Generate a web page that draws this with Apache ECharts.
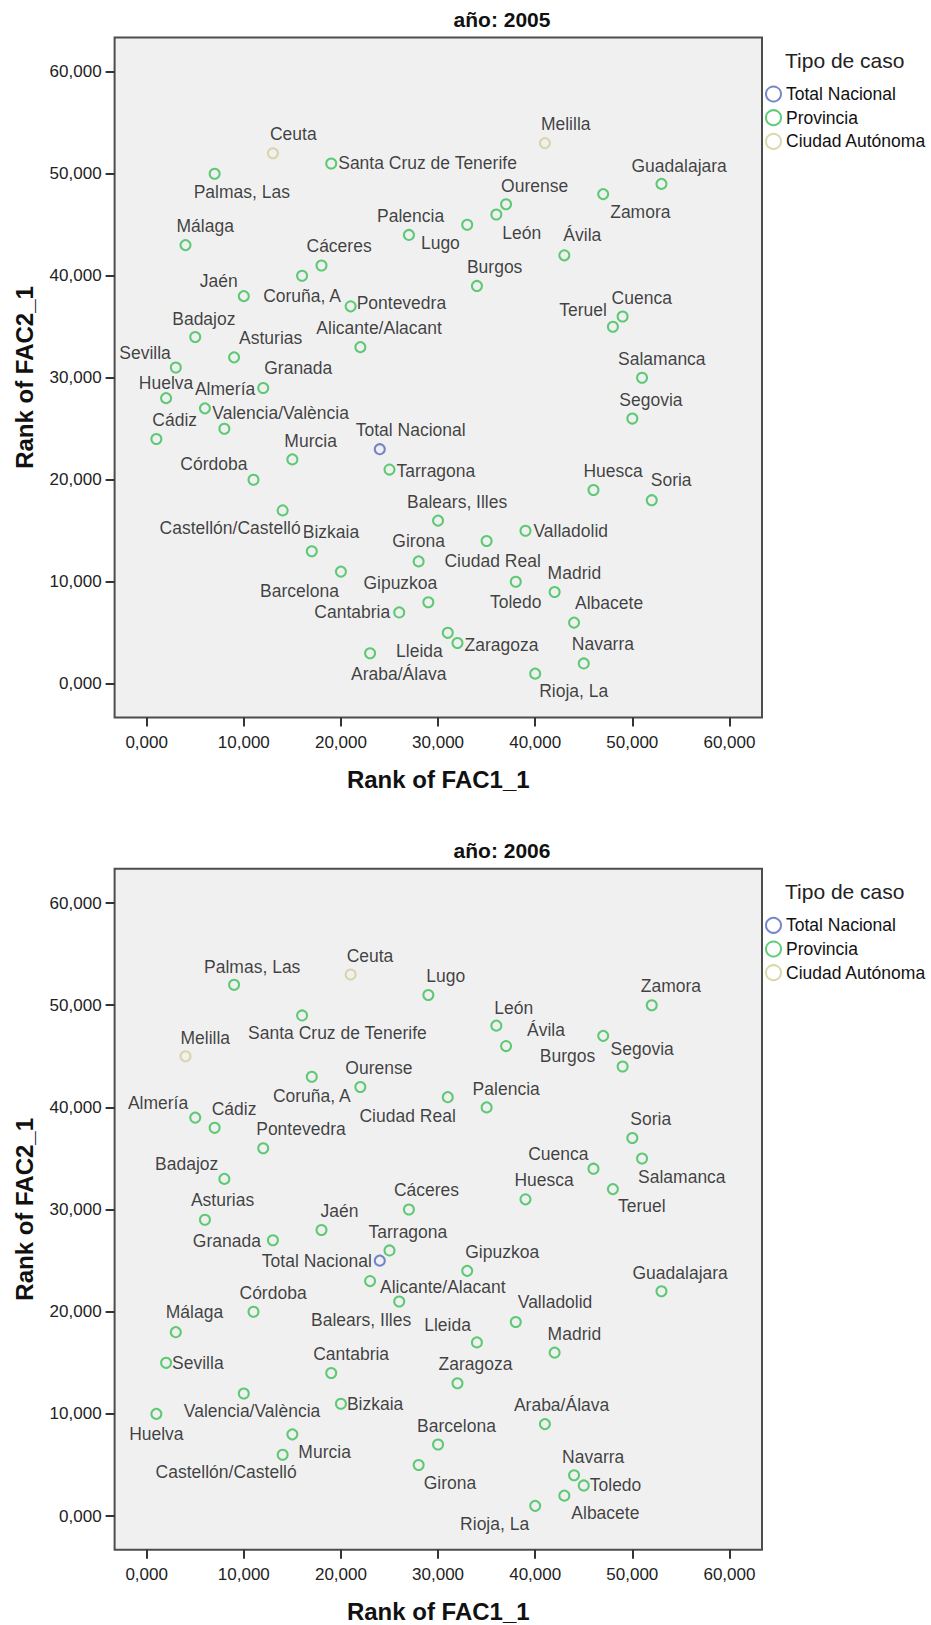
<!DOCTYPE html>
<html lang="es">
<head>
<meta charset="utf-8">
<title>Rank of FAC1_1 / Rank of FAC2_1 por año</title>
<script src="https://cdn.jsdelivr.net/npm/echarts@6.0.0/dist/echarts.min.js"></script>
<style>
  html, body { margin: 0; padding: 0; background: #ffffff; }
  #chart { width: 931px; height: 1625px; }
</style>
</head>
<body>
<div id="chart"></div>
<script>
// Casos (orden de código INE)
const casos = [
  'Total Nacional', 'Araba/Álava', 'Albacete', 'Alicante/Alacant', 'Almería', 'Ávila',
  'Badajoz', 'Balears, Illes', 'Barcelona', 'Burgos', 'Cáceres', 'Cádiz',
  'Castellón/Castelló', 'Ciudad Real', 'Córdoba', 'Coruña, A', 'Cuenca', 'Girona',
  'Granada', 'Guadalajara', 'Gipuzkoa', 'Huelva', 'Huesca', 'Jaén', 'León', 'Lleida',
  'Rioja, La', 'Lugo', 'Madrid', 'Málaga', 'Murcia', 'Navarra', 'Ourense', 'Asturias',
  'Palencia', 'Palmas, Las', 'Pontevedra', 'Salamanca', 'Santa Cruz de Tenerife',
  'Cantabria', 'Segovia', 'Sevilla', 'Soria', 'Tarragona', 'Teruel', 'Toledo',
  'Valencia/València', 'Valladolid', 'Bizkaia', 'Zamora', 'Zaragoza', 'Ceuta', 'Melilla'
];

// Tipo de caso
const tiposCaso = ['Total Nacional', 'Provincia', 'Ciudad Autónoma'];
const casosTotal = ['Total Nacional'];
const casosCiudadAutonoma = ['Ceuta', 'Melilla'];

// Rangos por año (mismo orden que `casos`)
const fac1Rank2005 = [24, 23, 44, 22, 6, 43, 5, 30, 20, 34, 18, 1, 14, 35, 11, 16, 49, 28, 12, 53, 29, 2, 46, 10, 36, 31,
  40, 27, 42, 4, 15, 45, 37, 9, 33, 7, 21, 51, 19, 26, 50, 3, 52, 25, 48, 38, 8, 39, 17, 47, 32, 13, 41];
const fac2Rank2005 = [23, 3, 6, 33, 27, 42, 34, 16, 11, 39, 41, 24, 17, 14, 20, 40, 36, 12, 29, 49, 8, 28, 19, 38, 46, 5,
  1, 44, 9, 43, 22, 2, 47, 32, 45, 50, 37, 30, 51, 7, 26, 31, 18, 21, 35, 10, 25, 15, 13, 48, 4, 52, 53];
const fac1Rank2006 = [24, 41, 43, 23, 5, 37, 8, 26, 30, 47, 27, 7, 14, 31, 11, 17, 46, 28, 13, 53, 33, 1, 39, 18, 36, 34,
  40, 29, 42, 3, 15, 44, 22, 6, 35, 9, 12, 51, 16, 19, 49, 2, 50, 25, 48, 45, 10, 38, 20, 52, 32, 21, 4];
const fac2Rank2006 = [25, 9, 2, 23, 39, 46, 33, 21, 7, 47, 30, 38, 6, 41, 20, 43, 34, 5, 27, 22, 24, 10, 31, 28, 48, 17,
  1, 51, 16, 18, 8, 4, 42, 29, 40, 52, 36, 35, 49, 14, 44, 15, 37, 26, 32, 3, 12, 19, 11, 50, 13, 53, 45];

// Marcas de los ejes
const axisTicks = [0, 10, 20, 30, 40, 50, 60];

// Colocación de cada etiqueta respecto a su punto: [dx, dy, alineación]
const etiquetas2005 = {
  'Total Nacional': [-24, -19, 'left'], 'Araba/Álava': [-19, 21, 'left'], 'Albacete': [1, -20, 'left'],
  'Alicante/Alacant': [-44, -19, 'left'], 'Almería': [-10, -19, 'left'], 'Ávila': [-1, -20, 'left'],
  'Badajoz': [-23, -18, 'left'], 'Balears, Illes': [-31, -19, 'left'], 'Barcelona': [-2, 19, 'right'],
  'Burgos': [-10, -19, 'left'], 'Cáceres': [-15, -20, 'left'], 'Cádiz': [-4, -19, 'left'],
  'Castellón/Castelló': [18, 18, 'right'], 'Ciudad Real': [6, 20, 'center'], 'Córdoba': [-6, -16, 'right'],
  'Coruña, A': [0, 20, 'center'], 'Cuenca': [-11, -19, 'left'], 'Girona': [0, -20, 'center'],
  'Granada': [1, -20, 'left'], 'Guadalajara': [-30, -18, 'left'], 'Gipuzkoa': [9, -19, 'right'],
  'Huelva': [0, -15, 'center'], 'Huesca': [-10, -19, 'left'], 'Jaén': [-6, -15, 'right'],
  'León': [6, 18, 'left'], 'Lleida': [-5, 18, 'right'], 'Rioja, La': [4, 17, 'left'],
  'Lugo': [12, 8, 'left'], 'Madrid': [-7, -19, 'left'], 'Málaga': [-9, -19, 'left'],
  'Murcia': [-8, -18, 'left'], 'Navarra': [-12, -19, 'left'], 'Ourense': [-5, -18, 'left'],
  'Asturias': [5, -19, 'left'], 'Palencia': [-23, -9, 'right'], 'Palmas, Las': [-21, 18, 'left'],
  'Pontevedra': [6, -3, 'left'], 'Salamanca': [-24, -19, 'left'], 'Santa Cruz de Tenerife': [7, -1, 'left'],
  'Cantabria': [-9, 0, 'right'], 'Segovia': [-13, -19, 'left'], 'Sevilla': [-5, -15, 'right'],
  'Soria': [-1, -20, 'left'], 'Tarragona': [7, 1, 'left'], 'Teruel': [-6, -17, 'right'],
  'Toledo': [0, 20, 'center'], 'Valencia/València': [-12, -16, 'left'], 'Valladolid': [8, 0, 'left'],
  'Bizkaia': [-9, -19, 'left'], 'Zamora': [7, 18, 'left'], 'Zaragoza': [7, 2, 'left'],
  'Ceuta': [-3, -19, 'left'], 'Melilla': [-4, -19, 'left']
};
const etiquetas2006 = {
  'Total Nacional': [-8, 0, 'right'], 'Araba/Álava': [-31, -19, 'left'], 'Albacete': [7, 17, 'left'],
  'Alicante/Alacant': [10, 6, 'left'], 'Almería': [-7, -15, 'right'], 'Ávila': [21, -16, 'left'],
  'Badajoz': [-6, -15, 'right'], 'Balears, Illes': [12, 18, 'right'], 'Barcelona': [-21, -19, 'left'],
  'Burgos': [-8, 20, 'right'], 'Cáceres': [-15, -20, 'left'], 'Cádiz': [-3, -19, 'left'],
  'Castellón/Castelló': [14, 17, 'right'], 'Ciudad Real': [8, 19, 'right'], 'Córdoba': [-14, -19, 'left'],
  'Coruña, A': [0, 19, 'center'], 'Cuenca': [-5, -15, 'right'], 'Girona': [5, 18, 'left'],
  'Granada': [-12, 1, 'right'], 'Guadalajara': [-29, -18, 'left'], 'Gipuzkoa': [-2, -19, 'left'],
  'Huelva': [0, 20, 'center'], 'Huesca': [-11, -19, 'left'], 'Jaén': [-1, -19, 'left'],
  'León': [-2, -18, 'left'], 'Lleida': [-6, -17, 'right'], 'Rioja, La': [-6, 18, 'right'],
  'Lugo': [-2, -19, 'left'], 'Madrid': [-7, -19, 'left'], 'Málaga': [-10, -20, 'left'],
  'Murcia': [6, 18, 'left'], 'Navarra': [-12, -18, 'left'], 'Ourense': [-15, -19, 'left'],
  'Asturias': [-14, -20, 'left'], 'Palencia': [-14, -18, 'left'], 'Palmas, Las': [-30, -18, 'left'],
  'Pontevedra': [-7, -19, 'left'], 'Salamanca': [-4, 19, 'left'], 'Santa Cruz de Tenerife': [-54, 18, 'left'],
  'Cantabria': [-18, -19, 'left'], 'Segovia': [-12, -18, 'left'], 'Sevilla': [6, 0, 'left'],
  'Soria': [-2, -19, 'left'], 'Tarragona': [-21, -18, 'left'], 'Teruel': [5, 17, 'left'],
  'Toledo': [6, 0, 'left'], 'Valencia/València': [-60, 18, 'left'], 'Valladolid': [2, -20, 'left'],
  'Bizkaia': [6, 0, 'left'], 'Zamora': [-11, -19, 'left'], 'Zaragoza': [-19, -19, 'left'],
  'Ceuta': [-4, -19, 'left'], 'Melilla': [-5, -18, 'left']
};

const FONT = '"Liberation Sans", Arial, Helvetica, sans-serif';
const colores = {
  'Total Nacional': '#5468c0',
  'Provincia': '#38bf55',
  'Ciudad Autónoma': '#d3ce97'
};

function tipoDe(nombre) {
  if (casosTotal.includes(nombre)) return 'Total Nacional';
  if (casosCiudadAutonoma.includes(nombre)) return 'Ciudad Autónoma';
  return 'Provincia';
}

// Formato con coma decimal: 10 -> "10,000"
function formatoRango(v) {
  return v.toFixed(3).replace('.', ',');
}

const paneles = [
  { titulo: 'año: 2005', fac1: fac1Rank2005, fac2: fac2Rank2005, etiquetas: etiquetas2005, top: 37.5, height: 680 },
  { titulo: 'año: 2006', fac1: fac1Rank2006, fac2: fac2Rank2006, etiquetas: etiquetas2006, top: 868.8, height: 681 }
];

const gridLeft = 114.6;
const gridWidth = 647.4;

const option = {
  backgroundColor: '#ffffff',
  animation: false,
  title: [], legend: [], grid: [], xAxis: [], yAxis: [], series: []
};

paneles.forEach((p, k) => {
  option.grid.push({
    left: gridLeft, top: p.top, width: gridWidth, height: p.height,
    show: true, backgroundColor: '#f0f0f0', borderColor: '#4d4d4d', borderWidth: 2
  });

  option.title.push({
    text: p.titulo, left: 502, top: p.top - 29, textAlign: 'center', padding: 0,
    textStyle: { fontFamily: FONT, fontSize: 21, fontWeight: 'bold', color: '#111' }
  });
  option.title.push({
    text: 'Tipo de caso', left: 785, top: p.top + 12.5, padding: 0,
    textStyle: { fontFamily: FONT, fontSize: 21, fontWeight: 'normal', color: '#222' }
  });

  option.legend.push({
    orient: 'vertical', left: 765, top: p.top + 47.5, padding: 0,
    itemWidth: 15, itemHeight: 15, itemGap: 5.7,
    selectedMode: false,
    textStyle: { fontFamily: FONT, fontSize: 17.5, color: '#111', lineHeight: 17 },
    data: tiposCaso.map(t => ({
      name: t, icon: 'circle',
      itemStyle: { color: 'rgba(0,0,0,0)', borderColor: colores[t], borderWidth: 2 }
    }))
  });

  const ejeComun = {
    type: 'value', gridIndex: k, min: -3.3, max: 63.35,
    nameLocation: 'middle',
    nameTextStyle: { fontFamily: FONT, fontSize: 24, fontWeight: 'bold', color: '#111' },
    axisLine: { show: false, onZero: false },
    splitLine: { show: false },
    axisTick: { show: true, customValues: axisTicks, length: 9, lineStyle: { color: '#333', width: 2 } }
  };

  option.xAxis.push(Object.assign({}, ejeComun, {
    position: 'bottom',
    name: 'Rank of FAC1_1', nameGap: 50,
    axisLabel: { customValues: axisTicks, formatter: formatoRango, margin: 16,
      fontFamily: FONT, fontSize: 17, color: '#222' }
  }));
  option.yAxis.push(Object.assign({}, ejeComun, {
    position: 'left',
    name: 'Rank of FAC2_1', nameGap: 78,
    axisLabel: { customValues: axisTicks, formatter: formatoRango, margin: 13,
      fontFamily: FONT, fontSize: 17, color: '#222' }
  }));

  tiposCaso.forEach(tipo => {
    const data = [];
    casos.forEach((nombre, i) => {
      if (tipoDe(nombre) !== tipo) return;
      const e = p.etiquetas[nombre];
      data.push({
        name: nombre,
        value: [p.fac1[i], p.fac2[i]],
        label: { offset: [e[0], e[1]], align: e[2] }
      });
    });
    option.series.push({
      type: 'scatter', name: tipo, xAxisIndex: k, yAxisIndex: k,
      symbol: 'circle', symbolSize: 10,
      itemStyle: { color: 'rgba(0,0,0,0)', borderColor: colores[tipo], borderWidth: 2 },
      emphasis: { disabled: true },
      label: {
        show: true, position: 'inside', formatter: '{b}',
        fontFamily: FONT, fontSize: 17.5, color: '#111', verticalAlign: 'middle'
      },
      data: data
    });
  });
});

const chart = echarts.init(document.getElementById('chart'), null, { renderer: 'svg', width: 931, height: 1625 });
chart.setOption(option);
</script>
</body>
</html>
